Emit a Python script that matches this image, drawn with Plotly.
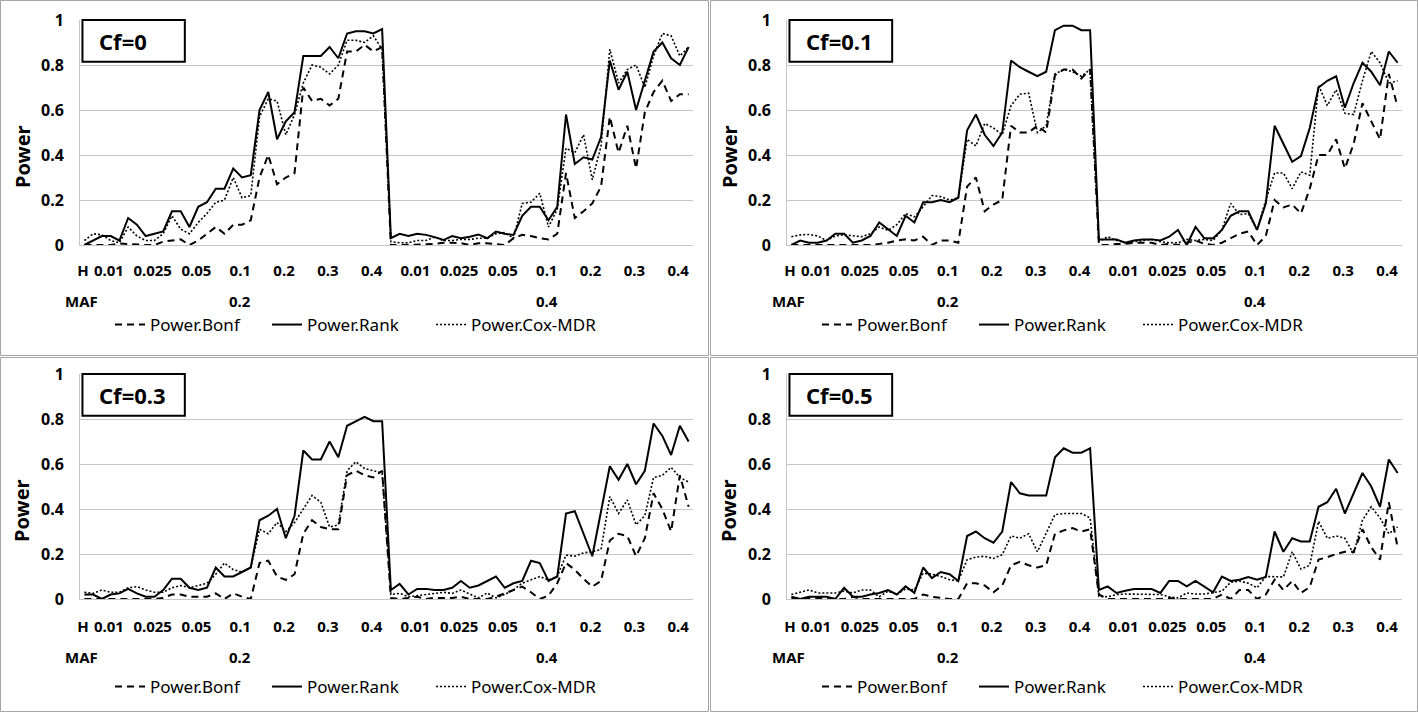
import plotly.graph_objects as go

# ---------------- data ----------------
h_labels = ["0.01", "0.025", "0.05", "0.1", "0.2", "0.3", "0.4"]
maf_labels = ["0.2", "0.4"]
reps_per_h = 5
header_h = "H"
header_maf = "MAF"
panel_titles = ["Cf=0", "Cf=0.1", "Cf=0.3", "Cf=0.5"]
series_names = ["Power.Bonf", "Power.Rank", "Power.Cox-MDR"]

bonf_cf0 = [0, 0, 0, 0, 0.007, 0.005, 0, 0, 0, 0.015, 0.02, 0.025, 0.0, 0.02, 0.05,
            0.08, 0.05, 0.09, 0.09, 0.11, 0.30, 0.40, 0.27, 0.30, 0.32, 0.70, 0.64, 0.65, 0.62, 0.65,
            0.86, 0.86, 0.89, 0.86, 0.88,
            0, 0, 0, 0, 0.003, 0.005, 0.01, 0.01, 0.008, 0, 0.008, 0.008, 0.005, 0, 0.03,
            0.045, 0.04, 0.03, 0.025, 0.05, 0.32, 0.12, 0.15, 0.185, 0.26, 0.57, 0.41, 0.53, 0.34, 0.59,
            0.68, 0.73, 0.64, 0.67, 0.67]
rank_cf0 = [0.00, 0.02, 0.04, 0.04, 0.02, 0.12, 0.09, 0.04, 0.05, 0.06, 0.15, 0.15, 0.08, 0.17, 0.19,
            0.25, 0.25, 0.34, 0.30, 0.31, 0.60, 0.68, 0.47, 0.55, 0.59, 0.84, 0.84, 0.84, 0.88, 0.83,
            0.94, 0.95, 0.95, 0.94, 0.96,
            0.03, 0.05, 0.04, 0.05, 0.045, 0.035, 0.022, 0.04, 0.03, 0.037, 0.047, 0.03, 0.06, 0.05, 0.045,
            0.13, 0.17, 0.17, 0.11, 0.17, 0.58, 0.36, 0.39, 0.38, 0.48, 0.82, 0.69, 0.77, 0.60, 0.73,
            0.86, 0.90, 0.83, 0.80, 0.88]
cox_cf0 = [0.02, 0.05, 0.045, 0.02, 0.01, 0.08, 0.04, 0.02, 0.02, 0.05, 0.13, 0.07, 0.05, 0.10, 0.14,
           0.19, 0.20, 0.30, 0.21, 0.22, 0.57, 0.65, 0.64, 0.49, 0.58, 0.72, 0.80, 0.79, 0.76, 0.80,
           0.91, 0.91, 0.90, 0.93, 0.87,
           0.015, 0.01, 0.01, 0.02, 0.02, 0.035, 0.02, 0.02, 0.025, 0.025, 0.03, 0.03, 0.05, 0.055, 0.03,
           0.185, 0.19, 0.23, 0.08, 0.16, 0.43, 0.41, 0.49, 0.29, 0.44, 0.87, 0.72, 0.78, 0.80, 0.70,
           0.84, 0.94, 0.93, 0.84, 0.88]

bonf_cf01 = [0, 0, 0, 0, 0, 0.002, 0, 0, 0, 0, 0.005, 0.01, 0.02, 0.025, 0.02,
             0.037, 0.0, 0.02, 0.02, 0.01, 0.26, 0.30, 0.15, 0.18, 0.20, 0.53, 0.50, 0.50, 0.53, 0.50,
             0.755, 0.78, 0.78, 0.74, 0.78,
             0, 0, 0.005, 0.005, 0.01, 0.01, 0.01, 0, 0.005, 0, 0.01, 0.02, 0.005, 0, 0.01,
             0.03, 0.05, 0.06, 0.0, 0.04, 0.20, 0.167, 0.18, 0.14, 0.25, 0.40, 0.40, 0.47, 0.34, 0.45,
             0.63, 0.55, 0.47, 0.76, 0.615]
rank_cf01 = [0.0, 0.02, 0.01, 0.01, 0.02, 0.05, 0.05, 0.01, 0.02, 0.04, 0.10, 0.07, 0.04, 0.13, 0.10,
             0.19, 0.19, 0.20, 0.19, 0.21, 0.51, 0.58, 0.49, 0.44, 0.50, 0.82, 0.79, 0.77, 0.75, 0.77,
             0.955, 0.975, 0.975, 0.955, 0.955,
             0.025, 0.025, 0.025, 0.01, 0.02, 0.025, 0.025, 0.02, 0.037, 0.067, 0.0, 0.08, 0.03, 0.03, 0.067,
             0.13, 0.15, 0.15, 0.067, 0.185, 0.53, 0.45, 0.37, 0.395, 0.52, 0.70, 0.73, 0.75, 0.61, 0.72,
             0.81, 0.77, 0.71, 0.86, 0.81]
cox_cf01 = [0.037, 0.045, 0.047, 0.04, 0.02, 0.04, 0.045, 0.04, 0.037, 0.05, 0.08, 0.065, 0.09, 0.14, 0.125,
            0.17, 0.22, 0.215, 0.20, 0.21, 0.47, 0.44, 0.54, 0.52, 0.49, 0.62, 0.67, 0.675, 0.50, 0.53,
            0.76, 0.78, 0.77, 0.75, 0.78,
            0.015, 0.037, 0.02, 0.01, 0.015, 0.02, 0.025, 0.015, 0.01, 0.01, 0.025, 0.02, 0.025, 0.02, 0.067,
            0.185, 0.135, 0.14, 0.067, 0.20, 0.32, 0.32, 0.25, 0.325, 0.31, 0.71, 0.62, 0.69, 0.585, 0.58,
            0.73, 0.86, 0.81, 0.72, 0.73]

bonf_cf03 = [0, 0, 0, 0, 0, 0, 0, 0, 0, 0.005, 0.02, 0.02, 0.01, 0.01, 0.01,
             0.025, 0.0, 0.025, 0.01, 0.0, 0.16, 0.17, 0.10, 0.085, 0.11, 0.29, 0.35, 0.32, 0.31, 0.31,
             0.55, 0.57, 0.55, 0.54, 0.57,
             0.005, 0, 0.005, 0.01, 0, 0.005, 0.005, 0.005, 0.01, 0, 0, 0, 0.01, 0.025, 0.04,
             0.055, 0.03, 0, 0.015, 0.07, 0.16, 0.13, 0.09, 0.055, 0.08, 0.26, 0.29, 0.28, 0.19, 0.27,
             0.47, 0.40, 0.30, 0.55, 0.41]
rank_cf03 = [0.02, 0.02, 0.0, 0.02, 0.025, 0.045, 0.025, 0.01, 0.01, 0.04, 0.09, 0.09, 0.05, 0.04, 0.05,
             0.14, 0.10, 0.10, 0.12, 0.14, 0.35, 0.37, 0.40, 0.27, 0.37, 0.66, 0.62, 0.62, 0.70, 0.63,
             0.77, 0.79, 0.81, 0.79, 0.79,
             0.04, 0.067, 0.02, 0.045, 0.045, 0.04, 0.04, 0.05, 0.08, 0.05, 0.06, 0.08, 0.10, 0.05, 0.07,
             0.08, 0.17, 0.16, 0.08, 0.10, 0.38, 0.39, 0.29, 0.19, 0.39, 0.59, 0.53, 0.60, 0.51, 0.57,
             0.78, 0.725, 0.64, 0.77, 0.70]
cox_cf03 = [0.03, 0.025, 0.04, 0.03, 0.03, 0.05, 0.055, 0.04, 0.03, 0.03, 0.05, 0.06, 0.05, 0.06, 0.07,
            0.11, 0.16, 0.13, 0.12, 0.14, 0.31, 0.29, 0.34, 0.30, 0.34, 0.40, 0.46, 0.43, 0.32, 0.33,
            0.57, 0.61, 0.58, 0.57, 0.56,
            0.02, 0.025, 0.01, 0.015, 0.02, 0.025, 0.03, 0.025, 0.04, 0.022, 0.005, 0.027, 0.005, 0.02, 0.04,
            0.07, 0.085, 0.10, 0.085, 0.10, 0.195, 0.19, 0.205, 0.21, 0.22, 0.455, 0.38, 0.44, 0.33, 0.37,
            0.54, 0.55, 0.585, 0.54, 0.52]

bonf_cf05 = [0.005, 0, 0.005, 0.005, 0.005, 0, 0, 0.01, 0, 0, 0, 0, 0, 0, 0,
             0.02, 0.01, 0.005, 0, 0, 0.07, 0.07, 0.06, 0.03, 0.06, 0.15, 0.165, 0.15, 0.14, 0.15,
             0.29, 0.305, 0.315, 0.30, 0.31,
             0.02, 0, 0, 0, 0, 0, 0, 0, 0.004, 0, 0, 0, 0, 0, 0.02,
             0, 0.04, 0.04, 0, 0.02, 0.086, 0.04, 0.08, 0.027, 0.053, 0.175, 0.186, 0.20, 0.21, 0.21,
             0.31, 0.23, 0.175, 0.43, 0.23]
rank_cf05 = [0.01, 0.0, 0.01, 0.01, 0.01, 0.0, 0.05, 0.01, 0.01, 0.02, 0.027, 0.04, 0.02, 0.056, 0.027,
             0.14, 0.093, 0.12, 0.11, 0.08, 0.28, 0.30, 0.27, 0.25, 0.30, 0.52, 0.47, 0.46, 0.46, 0.46,
             0.63, 0.67, 0.65, 0.65, 0.67,
             0.04, 0.056, 0.027, 0.037, 0.044, 0.044, 0.044, 0.027, 0.08, 0.08, 0.056, 0.08, 0.056, 0.03, 0.10,
             0.08, 0.086, 0.098, 0.086, 0.098, 0.30, 0.21, 0.27, 0.256, 0.256, 0.41, 0.43, 0.49, 0.38, 0.47,
             0.56, 0.50, 0.41, 0.62, 0.56]
cox_cf05 = [0.02, 0.03, 0.04, 0.027, 0.027, 0.027, 0.035, 0.027, 0.04, 0.04, 0.01, 0.035, 0.02, 0.045, 0.04,
            0.115, 0.11, 0.10, 0.086, 0.08, 0.175, 0.186, 0.19, 0.18, 0.197, 0.28, 0.27, 0.29, 0.21, 0.29,
            0.375, 0.38, 0.38, 0.38, 0.36,
            0.012, 0.01, 0.02, 0.022, 0.022, 0.02, 0.02, 0.02, 0.01, 0.005, 0.027, 0.022, 0.022, 0.027, 0.035,
            0.074, 0.08, 0.07, 0.05, 0.10, 0.098, 0.098, 0.21, 0.133, 0.15, 0.345, 0.27, 0.28, 0.27, 0.20,
            0.35, 0.41, 0.36, 0.29, 0.32]

panel_series = [
    (bonf_cf0, rank_cf0, cox_cf0),
    (bonf_cf01, rank_cf01, cox_cf01),
    (bonf_cf03, rank_cf03, cox_cf03),
    (bonf_cf05, rank_cf05, cox_cf05),
]

# ---------------- layout constants ----------------
W, H = 1418, 712
FONT = "Noto Sans"
PX = [(80, 693), (787, 1402)]      # plot-area x extents (px) per column
PY = [(20, 245), (374, 599)]       # plot-area y extents (px) per row
XLAB_STANDOFF = [12, 14]
MAF_GAP = [56, 58]
LEG_GAP = [80, 88]
line_styles = [
    dict(color="#000000", width=2, dash="7px,5px"),
    dict(color="#000000", width=2, dash="solid"),
    dict(color="#000000", width=1.6, dash="2px,2px"),
]
legend_widths = [112, 119, 150]
GRID = "#c6c6c6"

n_h = len(h_labels)
per_maf = n_h * reps_per_h
n_pts = per_maf * len(maf_labels)
idx = list(range(n_pts))

tickvals = [-0.16]
ticktext = [header_h]
for m in range(len(maf_labels)):
    for h in range(n_h):
        tickvals.append(m * per_maf + h * reps_per_h + (reps_per_h - 1) / 2 + 0.8)
        ticktext.append(h_labels[h])

fig = go.Figure()
annotations = []
shapes = []

for k, series in enumerate(panel_series):
    col, row = k % 2, k // 2
    sfx = "" if k == 0 else str(k + 1)
    xa, ya = "x" + sfx, "y" + sfx
    leg = "legend" + sfx
    for s, (vals, name, st, lw) in enumerate(zip(series, series_names, line_styles, legend_widths)):
        fig.add_trace(go.Scatter(
            x=idx, y=vals, mode="lines", name=name, line=st, legendwidth=lw,
            xaxis=xa, yaxis=ya, legend=leg, showlegend=True, hoverinfo="skip"))

    x0, x1 = PX[col]
    y0, y1 = PY[row]
    xdom = [x0 / W, x1 / W]
    ydom = [1 - y1 / H, 1 - y0 / H]
    fig.update_layout({
        "xaxis" + sfx: dict(domain=xdom, anchor=ya, range=[-0.5, n_pts - 0.5], automargin=False,
                            tickmode="array", tickvals=tickvals, ticktext=ticktext,
                            showgrid=False, zeroline=False, showline=True, linecolor=GRID,
                            linewidth=1, ticks="", ticklabelstandoff=XLAB_STANDOFF[row],
                            tickfont=dict(family=FONT, size=15, color="#000", weight="bold")),
        "yaxis" + sfx: dict(domain=ydom, anchor=xa, range=[0, 1], automargin=False,
                            tickmode="array", tickvals=[0, 0.2, 0.4, 0.6, 0.8, 1],
                            ticktext=["0", "0.2", "0.4", "0.6", "0.8", "1"],
                            showgrid=True, gridcolor=GRID, gridwidth=1, zeroline=False,
                            showline=True, linecolor=GRID, linewidth=1, ticks="",
                            ticklabelstandoff=12,
                            tickfont=dict(family=FONT, size=16, color="#000", weight="bold")),
        leg: dict(orientation="h", x=(x0 + 30) / W, xanchor="left",
                  y=1 - (y1 + LEG_GAP[row]) / H, yanchor="middle",
                  bgcolor="rgba(0,0,0,0)",
                  font=dict(family=FONT, size=17, color="#000")),
    })

    # MAF level labels
    maf_y = -MAF_GAP[row] / (y1 - y0)
    annotations.append(dict(x=-0.3, y=maf_y, xref=xa, yref=ya + " domain", text=header_maf,
                            showarrow=False, xanchor="center", yanchor="middle",
                            font=dict(family=FONT, size=15, color="#000", weight="bold")))
    for m, lab in enumerate(maf_labels):
        annotations.append(dict(x=m * per_maf + (per_maf - 1) / 2 + 0.8, y=maf_y,
                                xref=xa, yref=ya + " domain", text=lab, showarrow=False,
                                xanchor="center", yanchor="middle",
                                font=dict(family=FONT, size=15, color="#000", weight="bold")))
    # y-axis title
    annotations.append(dict(x=(x0 - 58) / W, y=1 - (y0 + 137) / H, xref="paper", yref="paper",
                            text="Power", textangle=-90, showarrow=False,
                            xanchor="center", yanchor="middle",
                            font=dict(family=FONT, size=20, color="#000", weight="bold")))
    # Cf box
    shapes.append(dict(type="rect", xref=xa + " domain", yref=ya + " domain",
                       x0=0.004, x1=0.171, y0=0.815, y1=1.0,
                       line=dict(color="#000", width=2), fillcolor="white", layer="above"))
    annotations.append(dict(x=0.028, y=0.907, xref=xa + " domain", yref=ya + " domain",
                            text=panel_titles[k], showarrow=False, xanchor="left", yanchor="middle",
                            font=dict(family=FONT, size=22, color="#000", weight="bold")))

# panel frames
for (fx0, fy0, fx1, fy1) in [(0.5, 0.5, 708.5, 355.5), (710.5, 0.5, 1417.5, 355.5),
                             (0.5, 357.5, 708.5, 711.5), (710.5, 357.5, 1417.5, 711.5)]:
    shapes.append(dict(type="rect", xref="paper", yref="paper",
                       x0=fx0 / W, x1=fx1 / W, y0=1 - fy1 / H, y1=1 - fy0 / H,
                       line=dict(color="#a6a6a6", width=1), layer="below"))

fig.update_layout(width=W, height=H, margin=dict(l=0, r=0, t=0, b=0, autoexpand=False),
                  paper_bgcolor="white", plot_bgcolor="white",
                  annotations=annotations, shapes=shapes,
                  font=dict(family=FONT, color="#000"))

fig.write_html("out.html", config={"displayModeBar": False},
               post_script="document.body.style.margin='0';document.body.style.overflow='hidden';")
